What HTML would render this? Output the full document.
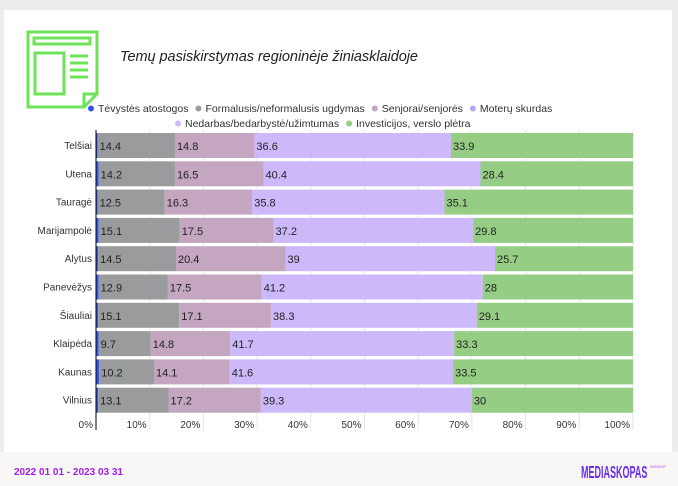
<!DOCTYPE html>
<html><head><meta charset="utf-8"><style>
body{margin:0;width:678px;height:486px;background:#efedeb;font-family:"Liberation Sans",sans-serif;position:relative;overflow:hidden}
#card{position:absolute;left:4px;top:10px;width:668px;height:442px;background:#fff}
#footer{position:absolute;left:0;top:452px;width:678px;height:34px;background:#f8f7f6}
</style></head><body>
<div id="card"></div>
<div id="footer"></div>
<svg width="678" height="486" style="position:absolute;left:0;top:0" id="svg">
<g fill="none" stroke="#6ee35a" stroke-width="3">
<path d="M28,32 H97 V94 L84,107 H28 Z"/><path d="M84,107 V94 H97"/>
<rect x="34" y="38" width="56" height="6"/><rect x="35" y="53" width="29" height="41"/>
<path d="M70,56H88M70,63H88M70,70H88M70,77H88"/>
</g>
<text x="120" y="61" font-size="14.5" font-style="italic" fill="#222" textLength="298">Temų pasiskirstymas regioninėje žiniasklaidoje</text>
<g id="legend" font-size="10.5" fill="#333"></g>
<g id="plot"></g>
<text x="14" y="475" font-size="10" fill="#a020f0" font-weight="bold">2022 01 01 - 2023 03 31</text>
<text x="0" y="0" font-size="11" fill="#6a2ef0" font-weight="bold" transform="translate(581,478) scale(0.82,1.6)">MEDIASKOPAS</text>
<text x="650" y="468" font-size="4" fill="#c040f0">INSIGHT</text>
</svg>
<script>
const categories=["Telšiai","Utena","Tauragė","Marijampolė","Alytus","Panevėžys","Šiauliai","Klaipėda","Kaunas","Vilnius"];
const seriesNames=["Tėvystės atostogos","Formalusis/neformalusis ugdymas","Senjorai/senjorės","Moterų skurdas","Nedarbas/bedarbystė/užimtumas","Investicijos, verslo plėtra"];
const tevystes=[0.3,0.5,0.3,0.5,0.4,0.5,0.4,0.5,0.6,0.4];
const ugdymas=[14.4,14.2,12.5,15.1,14.5,12.9,15.1,9.7,10.2,13.1];
const senjorai=[14.8,16.5,16.3,17.5,20.4,17.5,17.1,14.8,14.1,17.2];
const skurdas=[0,0,0,0,0,0,0,0,0,0];
const nedarbas=[36.6,40.4,35.8,37.2,39,41.2,38.3,41.7,41.6,39.3];
const investicijos=[33.9,28.4,35.1,29.8,25.7,28,29.1,33.3,33.5,30];
const ticks=[0,10,20,30,40,50,60,70,80,90,100];
const colors=["#3355ee","#999b9c","#c4a6c1","#b9a6f5","#cdb8fa","#96cd84"];
const series=[tevystes,ugdymas,senjorai,skurdas,nedarbas,investicijos];
const NS="http://www.w3.org/2000/svg";
function mk(t,a,p){const e=document.createElementNS(NS,t);for(const k in a)e.setAttribute(k,a[k]);p.appendChild(e);return e;}
const X0=96,X1=633,Y0=133,PITCH=28.3,BH=25;
const x=v=>X0+(X1-X0)*v/100;
const y=i=>Y0+i*PITCH;
const plot=document.getElementById('plot');
ticks.forEach(t=>{
 const l=mk('line',{x1:x(t),x2:x(t),y1:130,y2:430,stroke:'#e6e6e6'},plot);
 
 
 const tx=mk('text',{x:x(t)-3,y:428,'font-size':10,'text-anchor':'end',fill:'#333'},plot);
 tx.textContent=t+'%';
 
 
});
categories.forEach((c,i)=>{
 const tot=series.reduce((s,a)=>s+a[i],0);
 let acc=0;
 series.forEach((a,k)=>{
  const v=a[i]/tot*100;
  if(v>0){
   const r=mk('rect',{x:x(acc),y:y(i),width:x(acc+v)-x(acc),height:BH,fill:colors[k]},plot);
   
   
   if(k>0){
    const t=mk('text',{x:x(acc)+2,y:y(i)+17,'font-size':11,fill:'#222'},plot);
    t.textContent=String(a[i]);
    
    
   }
  }
  acc+=v;
 });
 const t=mk('text',{x:92,y:y(i)+16,'font-size':10,'text-anchor':'end',fill:'#333'},plot);
 t.textContent=c;
 
 
});
const ax=mk('line',{x1:X0,x2:X0,y1:130,y2:430,stroke:'#000'},plot);


const lg=document.getElementById('legend');
const rows=[[0,1,2,3],[4,5]];
rows.forEach((r,ri)=>{
 let cx=ri==0?88:175;const cy=ri==0?112:127;
 r.forEach(k=>{
  const g=mk('g',{},lg);
  
  
  mk('circle',{cx:cx+3,cy:cy-3.5,r:3,fill:colors[k]},g);
  const t=mk('text',{x:cx+10,y:cy},g);t.textContent=seriesNames[k];
  cx+=10+t.getComputedTextLength()+7;
 });
});
</script>
</body></html>
